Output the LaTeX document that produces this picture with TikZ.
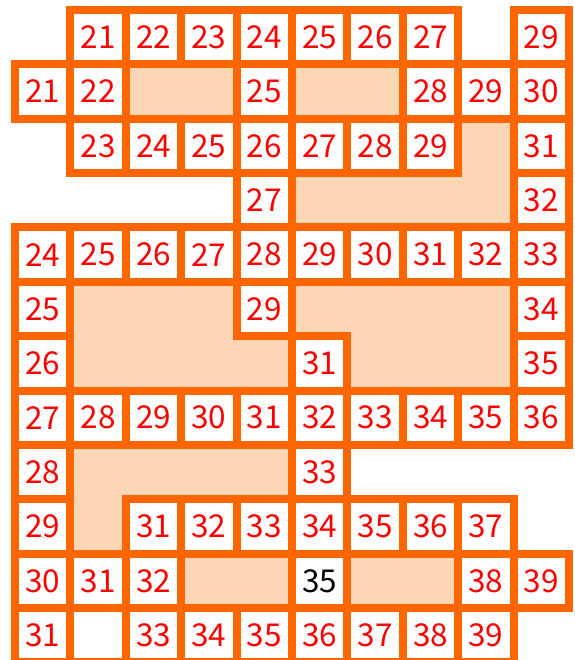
\documentclass[tikz,border=0pt]{standalone}
\usepackage{fontspec}
\setmainfont{Noto Sans CJK JP}
\definecolor{edge}{HTML}{FF6600}
\definecolor{peach}{HTML}{FCD5B4}
\definecolor{numred}{HTML}{FF0000}

\begin{document}
\begin{tikzpicture}[
    x=55.4pt, y=-54.36pt,
    cell/.style={draw=edge, line width=8pt, fill=white, text=numred, minimum width=55.4pt, minimum height=54.36pt, inner sep=0pt, outer sep=0pt, font=\fontsize{31.5}{31.5}\selectfont},
    gap/.style={fill=peach}
]
\useasboundingbox (-15pt,10pt) rectangle (559pt,-650pt);

% shaded gaps
\fill[gap] (2,1) rectangle (4,2);
\fill[gap] (5,1) rectangle (7,2);
\fill[gap] (8,2) rectangle (9,4);
\fill[gap] (5,3) rectangle (9,4);
\fill[gap] (1,5) rectangle (4,6);
\fill[gap] (1,6) rectangle (5,7);
\fill[gap] (5,5) rectangle (9,6);
\fill[gap] (6,6) rectangle (9,7);
\fill[gap] (1,8) rectangle (5,9);
\fill[gap] (1,9) rectangle (2,10);
\fill[gap] (3,10) rectangle (5,11);
\fill[gap] (6,10) rectangle (8,11);

% numbered cells, row by row
\foreach \c/\n in {1/21,2/22,3/23,4/24,5/25,6/26,7/27,9/29}
  \node[cell] (n\c-0) at (\c+0.5,0.5) {\n};
\foreach \c/\n in {0/21,1/22,4/25,7/28,8/29,9/30}
  \node[cell] (n\c-1) at (\c+0.5,1.5) {\n};
\foreach \c/\n in {1/23,2/24,3/25,4/26,5/27,6/28,7/29,9/31}
  \node[cell] (n\c-2) at (\c+0.5,2.5) {\n};
\foreach \c/\n in {4/27,9/32}
  \node[cell] (n\c-3) at (\c+0.5,3.5) {\n};
\foreach \c/\n in {0/24,1/25,2/26,3/27,4/28,5/29,6/30,7/31,8/32,9/33}
  \node[cell] (n\c-4) at (\c+0.5,4.5) {\n};
\foreach \c/\n in {0/25,4/29,9/34}
  \node[cell] (n\c-5) at (\c+0.5,5.5) {\n};
\foreach \c/\n in {0/26,5/31,9/35}
  \node[cell] (n\c-6) at (\c+0.5,6.5) {\n};
\foreach \c/\n in {0/27,1/28,2/29,3/30,4/31,5/32,6/33,7/34,8/35,9/36}
  \node[cell] (n\c-7) at (\c+0.5,7.5) {\n};
\foreach \c/\n in {0/28,5/33}
  \node[cell] (n\c-8) at (\c+0.5,8.5) {\n};
\foreach \c/\n in {0/29,2/31,3/32,4/33,5/34,6/35,7/36,8/37}
  \node[cell] (n\c-9) at (\c+0.5,9.5) {\n};
\foreach \c/\n in {0/30,1/31,2/32,8/38,9/39}
  \node[cell] (n\c-10) at (\c+0.5,10.5) {\n};
\node[cell, text=black] (n5-10) at (5.5,10.5) {35};
\foreach \c/\n in {0/31,2/33,3/34,4/35,5/36,6/37,7/38,8/39}
  \node[cell] (n\c-11) at (\c+0.5,11.5) {\n};
\node[cell] (n1-11) at (1.5,11.5) {};
\end{tikzpicture}
\end{document}
